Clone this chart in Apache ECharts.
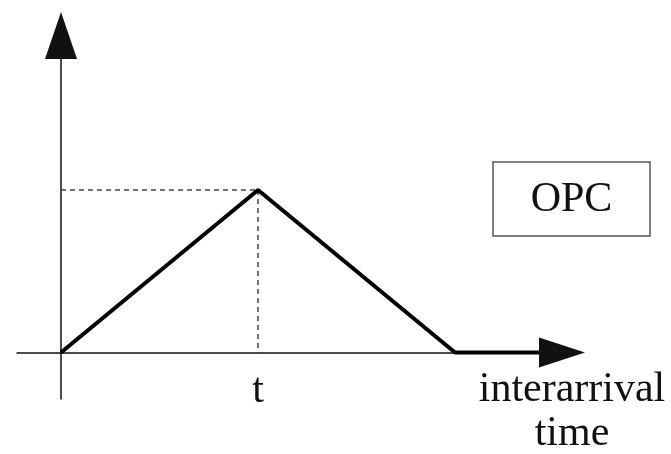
<!DOCTYPE html>
<html>
<head>
<meta charset="utf-8">
<script src="https://cdn.jsdelivr.net/npm/echarts@6/dist/echarts.min.js"></script>
<style>
  html, body { margin: 0; padding: 0; background: #fff; }
  #chart { width: 671px; height: 454px; }
</style>
</head>
<body>
<div id="chart"></div>
<script>
  // OPC curve: rises to the peak at t, falls back to zero, then runs along the axis
  var xValues = [0, 1, 2, 2.43]
  var yValues = [0, 1, 0, 0]
  var peak = [1, 1]
  var tickValues = [1]
  var tickLabels = ['t']
  var xName = 'interarrival\ntime'
  var boxLabel = 'OPC'

  var font = 'Liberation Serif'
  var myChart = echarts.init(document.getElementById('chart'))

  var option = {
    animation: false,
    grid: {
      left: 17,
      right: 109,
      top: 35.5,
      bottom: 55,
      containLabel: false,
      outerBoundsMode: 'none'
    },
    xAxis: {
      type: 'value',
      min: -0.2234,
      max: 2.543,
      splitLine: { show: false },
      axisTick: { show: false },
      axisLine: {
        onZero: true,
        symbol: ['none', 'triangle'],
        symbolSize: [30, 46],
        lineStyle: { color: '#111', width: 1.5 }
      },
      axisLabel: {
        customValues: tickValues,
        formatter: function (v) {
          return tickLabels[tickValues.indexOf(v)] || ''
        },
        margin: -30,
        color: '#111',
        fontFamily: font,
        fontSize: 42,
        lineHeight: 44
      },
      name: xName,
      nameLocation: 'end',
      nameGap: 10,
      nameTextStyle: {
        color: '#111',
        fontFamily: font,
        fontSize: 42,
        lineHeight: 44,
        align: 'center',
        verticalAlign: 'top',
        padding: [15, 0, 0, 0]
      }
    },
    yAxis: {
      type: 'value',
      min: -0.286,
      max: 1.951,
      splitLine: { show: false },
      axisTick: { show: false },
      axisLabel: { show: false },
      axisLine: {
        onZero: true,
        symbol: ['none', 'triangle'],
        symbolSize: [32, 47],
        lineStyle: { color: '#111', width: 1.5 }
      }
    },
    graphic: [
      {
        type: 'rect',
        shape: { x: 493, y: 162, width: 157, height: 74 },
        style: { fill: 'none', stroke: '#555', lineWidth: 1.5 }
      },
      {
        type: 'text',
        x: 571.5,
        y: 200,
        style: {
          text: boxLabel,
          fill: '#111',
          font: '42px "' + font + '"',
          align: 'center',
          verticalAlign: 'middle'
        }
      }
    ],
    series: [
      {
        type: 'line',
        symbol: 'none',
        z: 5,
        lineStyle: { color: '#000', width: 4 },
        data: xValues.map(function (x, i) { return [x, yValues[i]] }),
        markLine: {
          silent: true,
          symbol: 'none',
          label: { show: false },
          lineStyle: { color: '#444', width: 1.5, type: [5, 4] },
          data: [
            [{ coord: [0, peak[1]] }, { coord: [peak[0], peak[1]] }],
            [{ coord: [peak[0], peak[1]] }, { coord: [peak[0], 0] }]
          ]
        }
      }
    ]
  }

  myChart.setOption(option)
</script>
</body>
</html>
